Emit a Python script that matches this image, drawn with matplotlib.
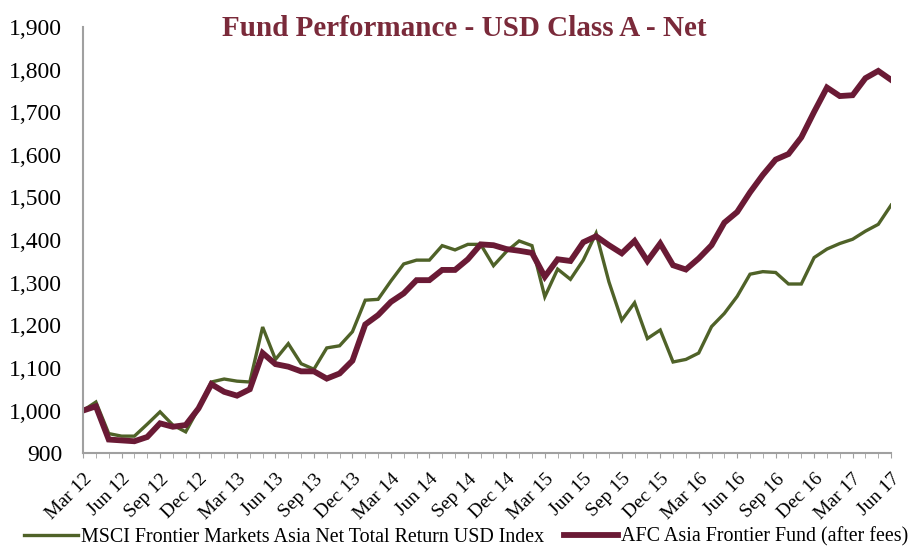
import matplotlib
matplotlib.use("Agg")
import matplotlib.pyplot as plt
from matplotlib.ticker import FuncFormatter, MultipleLocator

plt.rcParams['font.family'] = ['Liberation Serif', 'DejaVu Serif']

months = ["Mar 12", "Apr 12", "May 12", "Jun 12", "Jul 12", "Aug 12", "Sep 12", "Oct 12", "Nov 12", "Dec 12",
          "Jan 13", "Feb 13", "Mar 13", "Apr 13", "May 13", "Jun 13", "Jul 13", "Aug 13", "Sep 13", "Oct 13",
          "Nov 13", "Dec 13", "Jan 14", "Feb 14", "Mar 14", "Apr 14", "May 14", "Jun 14", "Jul 14", "Aug 14",
          "Sep 14", "Oct 14", "Nov 14", "Dec 14", "Jan 15", "Feb 15", "Mar 15", "Apr 15", "May 15", "Jun 15",
          "Jul 15", "Aug 15", "Sep 15", "Oct 15", "Nov 15", "Dec 15", "Jan 16", "Feb 16", "Mar 16", "Apr 16",
          "May 16", "Jun 16", "Jul 16", "Aug 16", "Sep 16", "Oct 16", "Nov 16", "Dec 16", "Jan 17", "Feb 17",
          "Mar 17", "Apr 17", "May 17", "Jun 17"]

msci = [1000, 1020, 946, 940, 940, 968, 997, 966, 950, 1005,
        1067, 1074, 1069, 1067, 1196, 1120, 1157, 1110, 1097, 1147,
        1152, 1185, 1259, 1261, 1304, 1344, 1353, 1353, 1387, 1377,
        1390, 1390, 1340, 1373, 1398, 1387, 1267, 1332, 1308, 1353,
        1416, 1302, 1212, 1253, 1169, 1189, 1114, 1120, 1135, 1197,
        1228, 1268, 1320, 1326, 1324, 1297, 1297, 1359, 1379, 1392,
        1402, 1421, 1437, 1482]

afc = [1000, 1010, 932, 930, 928, 938, 970, 962, 966, 1005,
       1062, 1044, 1035, 1050, 1135, 1109, 1103, 1092, 1092, 1075,
       1087, 1117, 1202, 1224, 1255, 1275, 1306, 1306, 1330, 1330,
       1355, 1390, 1388, 1379, 1375, 1370, 1314, 1355, 1351, 1395,
       1409, 1388, 1369, 1398, 1351, 1392, 1341, 1331, 1357, 1388,
       1441, 1466, 1512, 1553, 1589, 1602, 1641, 1701, 1758, 1738,
       1740, 1780, 1797, 1776]

msci_label = "MSCI Frontier Markets Asia Net Total Return USD Index"
afc_label = "AFC Asia Frontier Fund (after fees)"
title = "Fund Performance - USD Class A - Net"

green = "#4F6228"
maroon = "#6A1A35"

fig = plt.figure(figsize=(9.13, 5.46), dpi=100)
ax = fig.add_axes([0.091, 0.170, 0.885, 0.7805])

x = list(range(len(months)))
ax.plot(x, msci, color=green, lw=2.4, label=msci_label, solid_joinstyle='miter')
ax.plot(x, afc, color=maroon, lw=4.2, label=afc_label, solid_joinstyle='miter')

ax.set_xlim(0, len(months) - 1)
ax.set_ylim(900, 1900)
ax.yaxis.set_major_locator(MultipleLocator(100))
ax.yaxis.set_major_formatter(FuncFormatter(lambda v, p: f"{int(v):,}"))
ax.tick_params(axis='y', length=0, labelsize=17, pad=15)

major = x[::3]
ax.set_xticks(major)
ax.set_xticklabels(months[::3], rotation=45, ha='right', rotation_mode='anchor', fontsize=14)
ax.set_xticks(x, minor=True)
ax.tick_params(axis='x', which='both', length=3.5, color='#A0A0A0', direction='out', pad=9)

for s in ['top', 'right']:
    ax.spines[s].set_visible(False)
for s in ['left', 'bottom']:
    ax.spines[s].set_color('#A0A0A0')
    ax.spines[s].set_linewidth(1.5)

fig.text(0.508, 0.948, title, ha='center', va='center', fontsize=21, fontweight='bold', color='#7A2A3A')

fig.legend(loc='lower center', bbox_to_anchor=(0.511, -0.034), ncol=2, frameon=False,
           fontsize=14.4, handlelength=2.7, columnspacing=1.0, handletextpad=0.15)

fig.savefig("out.png", dpi=100)
